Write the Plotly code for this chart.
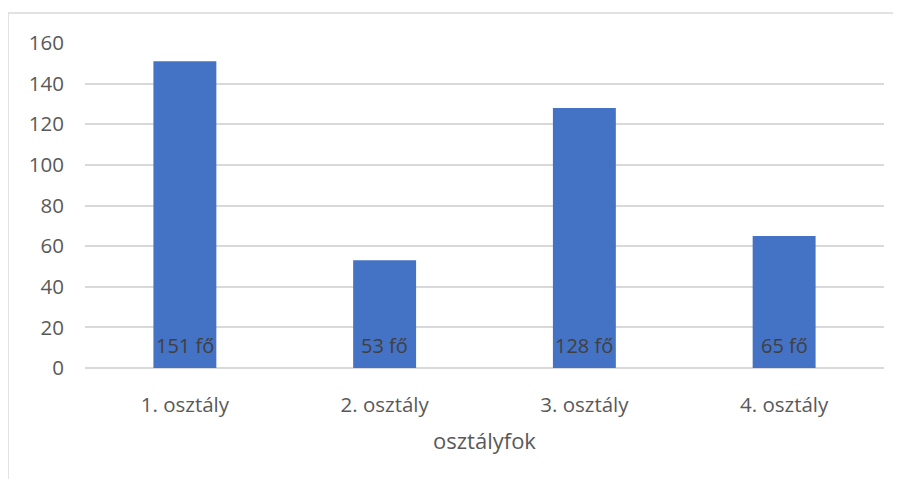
import plotly.graph_objects as go

categories = ["1. osztály", "2. osztály", "3. osztály", "4. osztály"]
values = [151, 53, 128, 65]
labels = [f"{v} fő" for v in values]
y_ticks = [0, 20, 40, 60, 80, 100, 120, 140, 160]

FONT = "Open Sans"
TICK_COLOR = "#595959"
GRID = "#d9d9d9"

fig = go.Figure()
fig.add_trace(go.Bar(
    x=categories, y=values,
    marker=dict(color="#4472C4", line=dict(width=0)),
    width=0.315,
    hoverinfo="x+y",
))

for c, t in zip(categories, labels):
    fig.add_annotation(
        x=c, y=0, xref="x", yref="y", text=t, showarrow=False,
        yanchor="middle", yshift=23,
        font=dict(family=FONT, size=20, color="#404040"),
    )

fig.add_shape(
    type="rect", xref="paper", yref="paper",
    x0=-0.0964, x1=1.06, y0=-0.45, y1=1.0923,
    line=dict(color=GRID, width=1.5), fillcolor="rgba(0,0,0,0)", layer="below",
)

fig.update_layout(
    width=893, height=471,
    margin=dict(l=77, r=17, t=35, b=111),
    paper_bgcolor="white", plot_bgcolor="white",
    showlegend=False,
    font=dict(family=FONT, color=TICK_COLOR),
    xaxis=dict(
        type="category",
        showgrid=False, showline=False, zeroline=False,
        ticks="", tickfont=dict(size=20.5, color=TICK_COLOR),
        ticklabelstandoff=22,
        title=dict(text="osztályfok", font=dict(size=22, color=TICK_COLOR), standoff=17),
        automargin=False,
    ),
    yaxis=dict(
        range=[0, 160], tickvals=y_ticks,
        showgrid=True, gridcolor=GRID, gridwidth=1.5,
        zeroline=True, zerolinecolor=GRID, zerolinewidth=1.5,
        showline=False, ticks="",
        tickfont=dict(size=20.5, color=TICK_COLOR),
        ticklabelstandoff=20,
        automargin=False,
    ),
)

fig.write_html("out.html")
